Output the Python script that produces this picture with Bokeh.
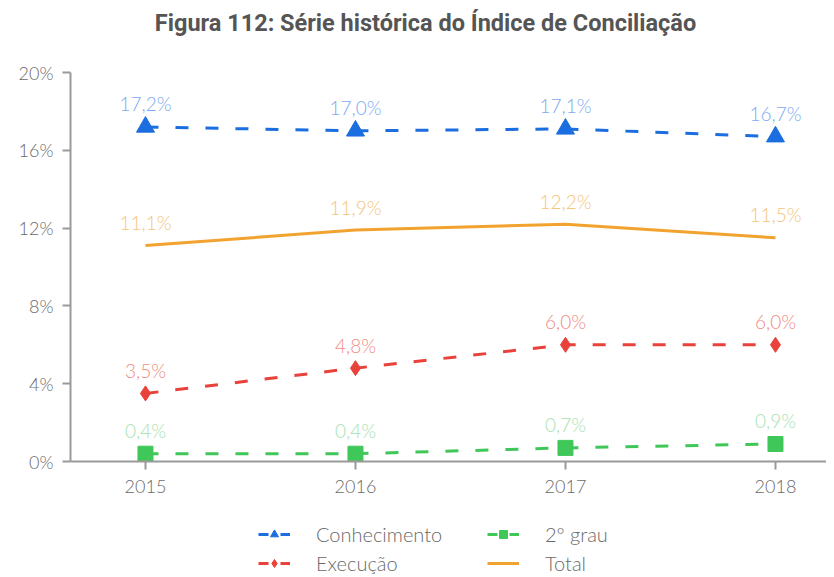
from bokeh.plotting import figure
from bokeh.layouts import column
from bokeh.models import (ColumnDataSource, Legend, LegendItem, Range1d, FixedTicker,
                          Label, LabelSet)
from bokeh.core.properties import value
from bokeh.embed import file_html
from bokeh.resources import INLINE

years = [2015, 2016, 2017, 2018]
conhecimento = [17.2, 17.0, 17.1, 16.7]
execucao = [3.5, 4.8, 6.0, 6.0]
segundo_grau = [0.4, 0.4, 0.7, 0.9]
total = [11.1, 11.9, 12.2, 11.5]
y_ticks = [0, 4, 8, 12, 16, 20]
title_text = "Figura 112: Série histórica do Índice de Conciliação"

FONT = "Lato Light, Lato"

def blank_fig(h):
    f = figure(width=826, height=h, output_backend="svg", toolbar_location=None,
               x_axis_type=None, y_axis_type=None, x_range=Range1d(0, 1), y_range=Range1d(0, 1),
               min_border_left=0, min_border_right=0, min_border_top=0, min_border_bottom=0)
    f.outline_line_color = None
    f.xgrid.visible = False
    f.ygrid.visible = False
    return f

# title figure
tf = blank_fig(44)
tf.add_layout(Label(x=0.4696, y=0.5, text=title_text, text_align="center",
                    text_baseline="middle", text_font="Roboto", text_font_size="23.5px",
                    text_font_style="bold", text_color="#555555"))

p = figure(width=826, height=468, output_backend="svg", toolbar_location=None,
           x_range=Range1d(2014.643, 2018.243), y_range=Range1d(0, 20),
           min_border_left=70, min_border_right=0, min_border_top=28, min_border_bottom=51)
p.outline_line_color = None
p.xgrid.visible = False
p.ygrid.visible = False

for ax in (p.xaxis, p.yaxis):
    ax.axis_line_color = "#9a9a9a"
    ax.axis_line_width = 2
    ax.major_tick_line_color = "#9a9a9a"
    ax.major_tick_line_width = 2
    ax.major_tick_out = 8
    ax.major_tick_in = 0
    ax.minor_tick_line_color = None
    ax.major_label_text_font = FONT
    ax.major_label_text_font_size = "18px"
    ax.major_label_text_color = "#6a6a6a"

p.xaxis.ticker = FixedTicker(ticks=years)
p.xaxis.major_label_standoff = 10
p.yaxis.ticker = FixedTicker(ticks=y_ticks)
p.yaxis.major_label_overrides = {t: f"{t}%" for t in y_ticks}
p.yaxis.major_label_standoff = 9

series = [
    ("Conhecimento", conhecimento, "#1a6ee0", "#7eaaf0", "13 17", "triangle", 18, 0.6),
    ("Execução", execucao, "#e8423a", "#f08b84", "13 17", "diamond", 15, 0.6),
    ("2º grau", segundo_grau, "#40c75a", "#a8e2b2", "13 17", "square", 15, 0.72),
    ("Total", total, "#f2a22e", "#f4c57c", "solid", None, 0, 0),
]

# legend figure
lf = blank_fig(63)

nan = float("nan")
items = {}
for name, vals, col, lcol, dash, marker, size, lscale in series:
    src = ColumnDataSource(dict(x=years, y=vals, lab=[f"{v:.1f}%".replace(".", ",") for v in vals]))
    p.line("x", "y", source=src, line_color=col, line_width=3, line_dash=dash)
    if marker:
        p.scatter("x", "y", source=src, marker=marker, size=size, fill_color=col, line_color=col)
    p.add_layout(LabelSet(x="x", y="y", text="lab", source=src, text_align="center",
                          text_baseline="middle", y_offset=23, text_font=value(FONT),
                          text_font_size=value("19px"), text_color=lcol))
    # legend-only renderers (one undrawable NaN point)
    dummy = ColumnDataSource(dict(x=[nan], y=[nan]))
    rs = [lf.line("x", "y", source=dummy, line_color=col, line_width=3,
                  line_dash="10 12" if dash != "solid" else "solid")]
    if marker:
        rs.append(lf.scatter("x", "y", source=dummy, marker=marker, size=size * lscale,
                             fill_color=col, line_color=col))
    items[name] = LegendItem(label=name, renderers=rs)

legend = Legend(items=[items[n] for n in ["Conhecimento", "Execução", "2º grau", "Total"]],
                location=(188, 0), orientation="vertical", ncols=2,
                glyph_width=32, glyph_height=20, label_height=20, spacing=5,
                label_width=166, label_standoff=26, padding=0, margin=0,
                border_line_color=None, background_fill_alpha=0, label_text_font=FONT,
                label_text_font_size="20px", label_text_color="#6a6a6a")
lf.add_layout(legend, "center")

open("out.html", "w").write(file_html(column(tf, p, lf, spacing=0), INLINE))
